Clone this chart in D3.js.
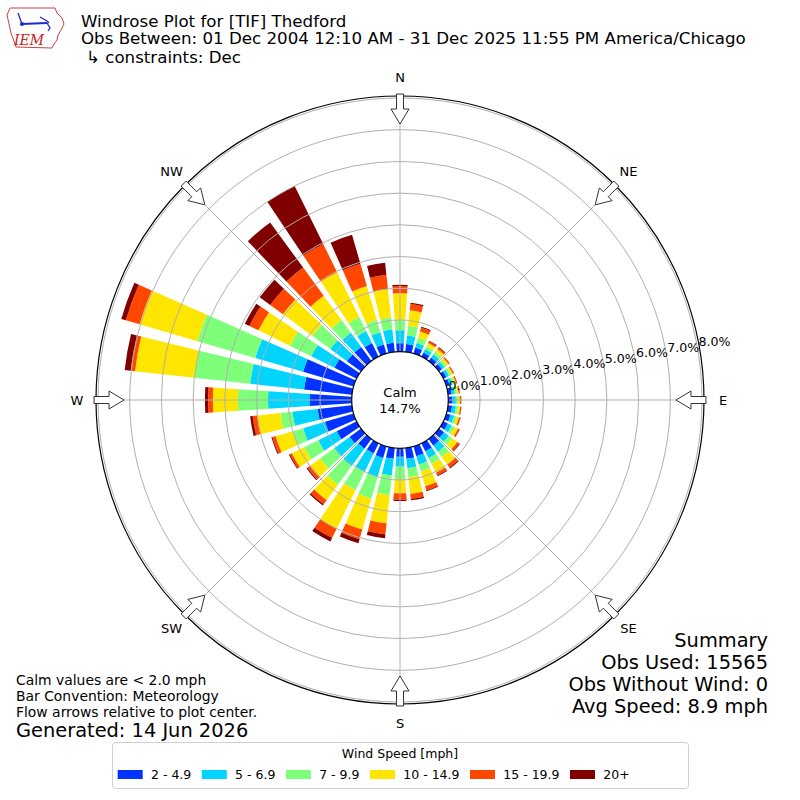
<!DOCTYPE html>
<html>
<head>
<meta charset="utf-8">
<script src="https://cdn.jsdelivr.net/npm/d3@7"></script>
<style>
  html, body { margin: 0; padding: 0; background: #fff; }
  svg { display: block; }
  text { font-family: "DejaVu Sans", sans-serif; }
</style>
</head>
<body>
<svg id="chart" width="800" height="800"></svg>
<script>
// ---------------- DATA ----------------
const directions = [0,10,20,30,40,50,60,70,80,90,100,110,120,130,140,150,160,170,
                    180,190,200,210,220,230,240,250,260,270,280,290,300,310,320,330,340,350];
const speedBins = ["2 - 4.9", "5 - 6.9", "7 - 9.9", "10 - 14.9", "15 - 19.9", "20+"];
const binColors = ["#0033ff", "#00d4ff", "#7dff7a", "#ffe600", "#ff4700", "#800000"];
// frequency (%) per direction for each speed bin
const bin2to5   = [0.27,0.25,0.20,0.15,0.14,0.12,0.11,0.11,0.12,0.13,0.13,0.14,0.16,0.20,0.26,0.28,0.32,0.34,
                   0.27,0.34,0.38,0.36,0.38,0.45,0.70,0.94,1.09,1.32,1.52,1.66,0.78,0.55,0.55,0.48,0.30,0.29];
const bin5to7   = [0.41,0.27,0.15,0.12,0.12,0.10,0.09,0.09,0.10,0.11,0.12,0.12,0.14,0.18,0.24,0.24,0.28,0.30,
                   0.31,0.53,0.62,0.64,0.68,0.60,0.65,0.72,0.80,1.32,1.71,1.57,0.82,0.65,0.55,0.42,0.40,0.43];
const bin7to10  = [0.34,0.31,0.17,0.10,0.10,0.08,0.07,0.06,0.06,0.07,0.07,0.08,0.10,0.14,0.20,0.20,0.23,0.29,
                   0.39,0.63,0.72,0.65,0.73,0.55,0.50,0.34,0.38,0.95,1.76,1.90,0.75,0.70,0.50,0.49,0.40,0.37];
const bin10to15 = [0.82,0.49,0.21,0.11,0.11,0.08,0.07,0.06,0.06,0.06,0.07,0.08,0.12,0.20,0.30,0.32,0.48,0.53,
                   0.45,0.89,1.01,1.35,0.60,0.38,0.43,0.56,0.74,0.79,1.89,1.90,1.10,1.15,0.95,1.58,1.12,0.91];
const bin15to20 = [0.22,0.20,0.12,0.06,0.06,0.04,0.03,0.03,0.03,0.03,0.03,0.04,0.05,0.08,0.12,0.09,0.13,0.16,
                   0.20,0.35,0.32,0.32,0.16,0.12,0.07,0.11,0.14,0.15,0.14,0.45,0.32,0.50,1.10,0.99,0.73,0.45];
const bin20plus = [0.05,0.04,0.03,0.02,0.02,0.01,0.01,0.01,0.01,0.01,0.01,0.01,0.01,0.02,0.03,0.03,0.03,0.04,
                   0.04,0.12,0.13,0.13,0.05,0.03,0.03,0.03,0.08,0.10,0.19,0.15,0.16,0.41,1.76,2.04,0.95,0.38];
const seriesValues = [bin2to5, bin5to7, bin7to10, bin10to15, bin15to20, bin20plus];
const radialTicks = [0,1,2,3,4,5,6,7,8];
const compass = [["N",0],["NE",45],["E",90],["SE",135],["S",180],["SW",225],["W",270],["NW",315]];
const calmPct = "14.7%";
const titleLines = ["Windrose Plot for [TIF] Thedford",
                    "Obs Between: 01 Dec 2004 12:10 AM - 31 Dec 2025 11:55 PM America/Chicago",
                    "\u21b3 constraints: Dec"];
const footLeft = ["Calm values are < 2.0 mph", "Bar Convention: Meteorology", "Flow arrows relative to plot center."];
const generated = "Generated: 14 Jun 2026";
const summary = ["Summary", "Obs Used: 15565", "Obs Without Wind: 0", "Avg Speed: 8.9 mph"];

// ---------------- LAYOUT ----------------
const svg = d3.select("#chart");
const cx = 400, cy = 400;
const rInner = 48.3, rMax = 302, rOuter = 304;
const r = d3.scaleLinear().domain([0, 8]).range([rInner, rMax]);
const halfW = 3.8 * Math.PI / 180;
const rad = d => d * Math.PI / 180;

const g = svg.append("g").attr("transform", `translate(${cx},${cy})`);

// stacked data
const stacked = directions.map((dir, i) => {
  let cum = 0;
  return seriesValues.map((s, k) => {
    const lo = cum; cum += s[i];
    return { dir, k, lo, hi: cum };
  });
}).flat();

const arc = d3.arc()
  .innerRadius(d => r(d.lo))
  .outerRadius(d => r(d.hi))
  .startAngle(d => rad(d.dir) - halfW)
  .endAngle(d => rad(d.dir) + halfW);

g.append("g").selectAll("path").data(stacked).join("path")
  .attr("d", arc)
  .attr("fill", d => binColors[d.k]);

// grid circles
g.append("g").selectAll("circle").data(radialTicks.slice(1)).join("circle")
  .attr("r", d => r(d)).attr("fill", "none")
  .attr("stroke", "#b0b0b0").attr("stroke-width", 1);

// spokes
g.append("g").selectAll("line").data(compass).join("line")
  .attr("x1", d => rInner * Math.sin(rad(d[1])))
  .attr("y1", d => -rInner * Math.cos(rad(d[1])))
  .attr("x2", d => rMax * Math.sin(rad(d[1])))
  .attr("y2", d => -rMax * Math.cos(rad(d[1])))
  .attr("stroke", "#b0b0b0").attr("stroke-width", 1);

// outer circle
g.append("circle").attr("r", rOuter).attr("fill", "none").attr("stroke", "#000").attr("stroke-width", 1.2);

// calm circle
g.append("circle").attr("r", rInner).attr("fill", "#fff").attr("stroke", "#000").attr("stroke-width", 1.2);
g.append("text").attr("x", 0).attr("y", -3.5).attr("text-anchor", "middle")
  .style("font-size", "13px").text("Calm");
g.append("text").attr("x", 0).attr("y", 12.5).attr("text-anchor", "middle")
  .style("font-size", "13px").text(calmPct);

// radial labels
const la = rad(10);
g.append("g").selectAll("text").data(radialTicks).join("text")
  .attr("x", d => r(d) * Math.cos(la) + 1)
  .attr("y", d => -r(d) * Math.sin(la) - 1.5)
  .style("font-size", "12.6px")
  .text(d => d.toFixed(1) + "%");

// compass arrows
const arrowShape = [[306,-3.5],[291,-3.5],[291,-9],[276,0],[291,9],[291,3.5],[306,3.5]];
g.append("g").selectAll("path").data(compass).join("path")
  .attr("d", d => {
    const t = rad(d[1]), s = Math.sin(t), c = Math.cos(t);
    return "M" + arrowShape.map(([a, b]) => [a * s + b * c, -a * c + b * s].map(v => v.toFixed(2)).join(",")).join("L") + "Z";
  })
  .attr("fill", "#fff").attr("stroke", "#333").attr("stroke-width", 1);

// compass labels
g.append("g").selectAll("text").data(compass).join("text")
  .attr("x", d => 323 * Math.sin(rad(d[1])))
  .attr("y", d => -323 * Math.cos(rad(d[1])))
  .attr("text-anchor", "middle").attr("dominant-baseline", "central")
  .style("font-size", "13px")
  .text(d => d[0]);

// ---------------- TITLES ----------------
const tY = [26.5, 43.8, 62.5];
const tX = [81, 81, 86];
svg.append("g").selectAll("text").data(titleLines).join("text")
  .attr("x", (d, i) => tX[i]).attr("y", (d, i) => tY[i])
  .style("font-size", "16.67px").text(d => d);

// footer left
svg.append("g").selectAll("text").data(footLeft).join("text")
  .attr("x", 16).attr("y", (d, i) => 685 + i * 16)
  .style("font-size", "13.9px").text(d => d);
svg.append("text").attr("x", 16).attr("y", 737)
  .style("font-size", "19.4px").text(generated);

// summary
svg.append("g").selectAll("text").data(summary).join("text")
  .attr("x", 768).attr("y", (d, i) => 647 + i * 22).attr("text-anchor", "end")
  .style("font-size", "19.4px").text(d => d);

// ---------------- LEGEND ----------------
const leg = svg.append("g");
leg.append("rect").attr("x", 112.5).attr("y", 742.5).attr("width", 576).attr("height", 46)
  .attr("rx", 3).attr("fill", "#fff").attr("stroke", "#d0d0d0").attr("stroke-width", 1);
leg.append("text").attr("x", 400).attr("y", 757.5).attr("text-anchor", "middle")
  .style("font-size", "12.5px").text("Wind Speed [mph]");
let lx = 117.7;
speedBins.forEach((lab, k) => {
  leg.append("rect").attr("x", lx).attr("y", 770).attr("width", 25).attr("height", 9)
    .attr("fill", binColors[k]);
  const t = leg.append("text").attr("x", lx + 33.3).attr("y", 778.5)
    .style("font-size", "12.5px").text(lab);
  lx = lx + 33.3 + t.node().getComputedTextLength() + 10.5;
});

// ---------------- LOGO ----------------
const logo = svg.append("g");
logo.append("path")
  .attr("d", "M10,8 L55,8 L57,13 L62,18 L64,24 L61,30 L58,35 L57,40 L54,44 L52,48 L16,47 L14,41 L11,33 L9,24 L7,15 Z")
  .attr("fill", "#fff").attr("stroke", "#d04040").attr("stroke-width", 1);
logo.append("path").attr("d", "M22,24 L47,23").attr("stroke", "#1a2ccf").attr("stroke-width", 2.2).attr("fill", "none");
logo.append("path").attr("d", "M22,24 L18,13 M40,17 L47,21 L49,23 M47,23 L50,28 L48,31")
  .attr("stroke", "#1a2ccf").attr("stroke-width", 1.3).attr("fill", "none");
logo.append("circle").attr("cx", 22).attr("cy", 24).attr("r", 2).attr("fill", "#1a2ccf");
logo.append("text").attr("x", 14).attr("y", 45).style("font-family", "'DejaVu Serif', serif")
  .style("font-style", "italic").style("font-size", "14px").attr("fill", "#cc2020").text("IEM");
</script>
</body>
</html>
